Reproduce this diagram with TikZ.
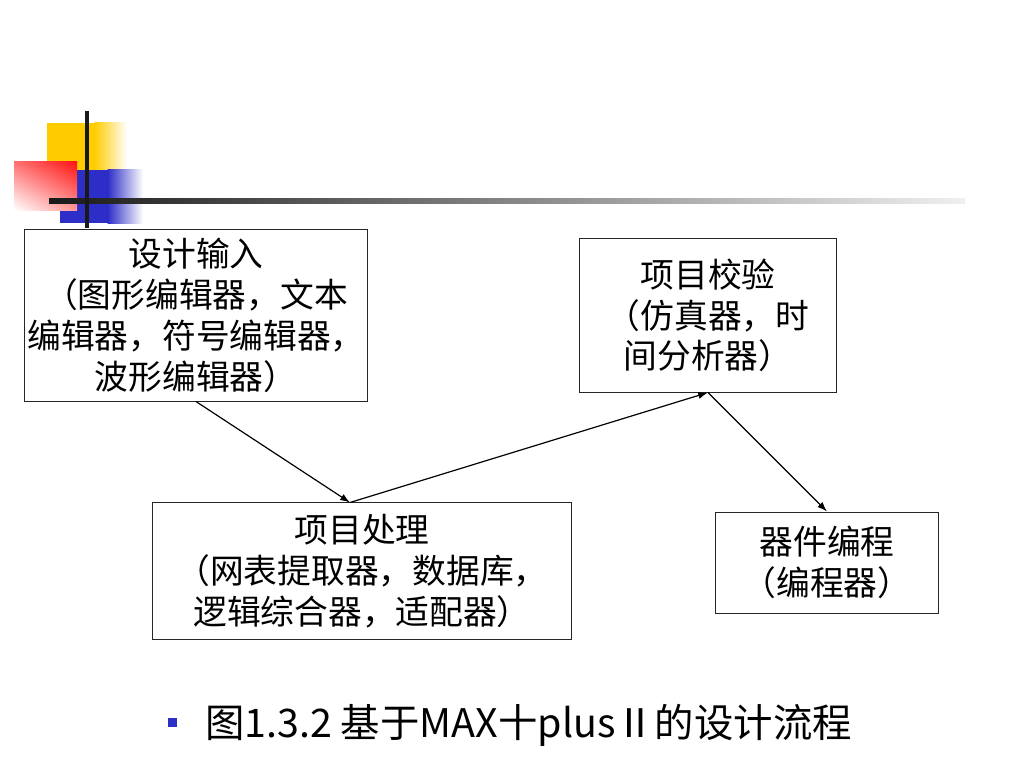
\documentclass[tikz,border=0pt]{standalone}
\usepackage{fontspec}
\setmainfont{Noto Sans CJK SC}
\usetikzlibrary{arrows.meta,shadings}
\definecolor{slideyellow}{RGB}{255,204,0}
\definecolor{slideblue}{RGB}{45,45,200}
\definecolor{slidered}{RGB}{255,20,20}

\begin{document}
\begin{tikzpicture}[x=0.025cm,y=-0.025cm]
    \tikzstyle{stagebox} = [rectangle, draw=black!85, line width=0.7pt, inner sep=0pt, align=center, font=\fontsize{24}{29}\selectfont]
    \tikzstyle{flow} = [-{Latex[length=7pt,width=5pt]}, line width=0.85pt]
    \useasboundingbox (0,0) rectangle (1024,768);

    % Title decoration
    \fill[slideyellow] (47,123) rectangle (95,170);
    \shade[left color=slideyellow, right color=white] (94.5,123) rectangle (127,170);
    \fill[slideblue] (60,170) rectangle (108,223);
    \shade[left color=slideblue, right color=white] (107.5,170) rectangle (143,223);
    \shade[upper right=slidered, upper left=slidered!60, lower right=slidered!45, lower left=white] (14,162) rectangle (77,210);
    \shade[left color=black!90, right color=black!6] (49,198.5) rectangle (965,203.5);
    \draw[line width=2.8pt, black!90] (87,111) -- (87,228);

    % Stages
    \node[stagebox, minimum width=8.55cm, minimum height=4.275cm] (input) at (196,315.5) {设计输入\\（图形编辑器，文本\\编辑器，符号编辑器，\\波形编辑器）};
    \node[stagebox, minimum width=6.4cm, minimum height=3.825cm] (verify) at (708,315.5) {项目校验\\（仿真器，时\\间分析器）};
    \node[stagebox, minimum width=10.45cm, minimum height=3.4cm] (proc) at (362,571) {项目处理\\（网表提取器，数据库，\\逻辑综合器，适配器）};
    \node[stagebox, minimum width=5.55cm, minimum height=2.525cm] (program) at (827,562.5) {器件编程\\（编程器）};

    % Connections
    \coordinate (procin) at ([xshift=-0.3cm]proc.north);
    \draw[flow] (input.south) -- (procin);
    \draw[flow] (procin) -- (verify.south);
    \draw[flow] (verify.south) -- (program.north);

    % Caption
    \node[fill=slideblue, minimum size=0.225cm, inner sep=0pt] (bullet) at (172.5,722.5) {};
    \node[anchor=base west, inner sep=0pt, font=\fontsize{28}{34}\selectfont] (caption) at (205,737) {图1.3.2 基于MAX十plusⅡ的设计流程};
\end{tikzpicture}
\end{document}
